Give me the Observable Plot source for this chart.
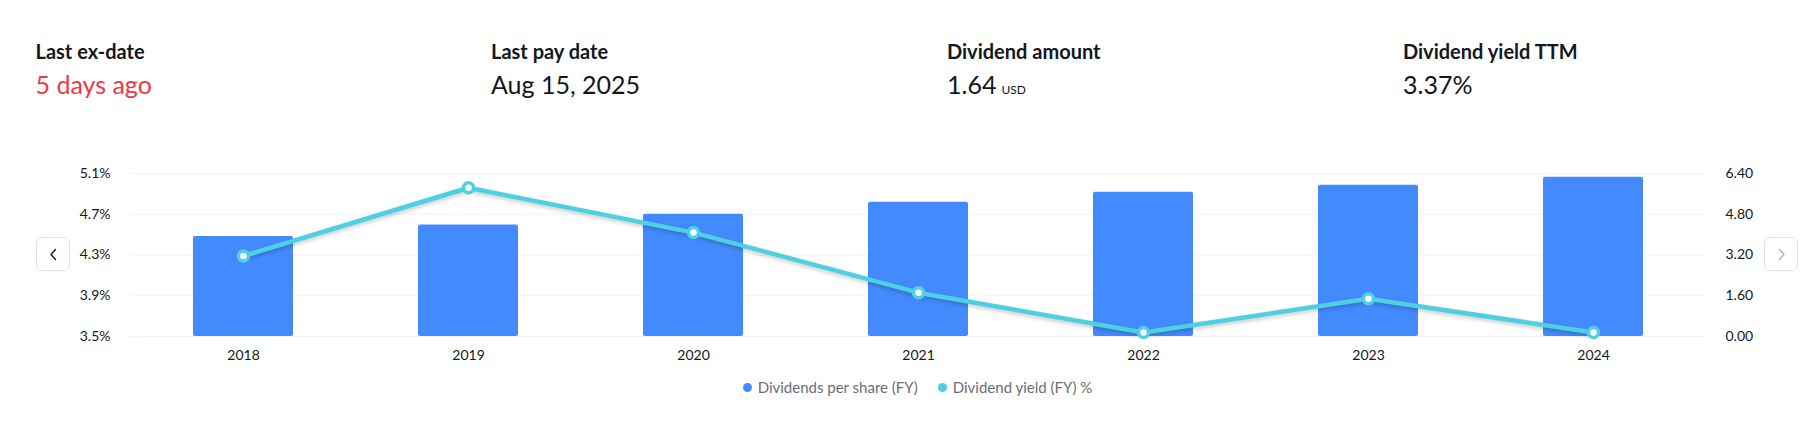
<!DOCTYPE html>
<html>
<head>
<meta charset="utf-8">
<script src="https://cdn.jsdelivr.net/npm/d3@7"></script>
<script src="https://cdn.jsdelivr.net/npm/@observablehq/plot@0.6"></script>
<style>
html, body { margin: 0; padding: 0; background: #fff; width: 1806px; height: 422px; overflow: hidden; }
body { font-family: Lato, "Open Sans", sans-serif; color: #131722; }
#page { position: relative; width: 1806px; height: 422px; }
.stat { position: absolute; white-space: nowrap; }
.lbl { font-weight: 700; font-size: 20px; line-height: 20px; top: 41px; }
.val { font-size: 25px; line-height: 25px; top: 72px; }
.val.red { color: #f23645; }
.unit { font-size: 12px; margin-left: 5px; }
.chart { position: absolute; left: 0; top: 143px; }
.chart svg { overflow: visible; }
.navbtn { position: absolute; top: 237px; width: 32px; height: 32px; border: 1px solid #e0e3eb; border-radius: 6px; box-sizing: content-box; background: #fff; }
.navbtn svg { position: absolute; left: 0; top: 0; }
#legend { position: absolute; left: 130px; width: 1575px; top: 377px; height: 20px; display: flex; justify-content: center; align-items: center; font-size: 15px; color: #6a6d78; }
.li { display: flex; align-items: center; margin: 0 10px; }
.dot { width: 9px; height: 9px; border-radius: 50%; margin-right: 6px; }
g[aria-label="line"] { filter: drop-shadow(0 2px 2px rgba(0,0,0,0.22)); }
</style>
</head>
<body>
<div id="page">
  <div class="stat lbl" style="left:35.5px">Last ex-date</div>
  <div class="stat val red" style="left:35.5px">5 days ago</div>
  <div class="stat lbl" style="left:491px">Last pay date</div>
  <div class="stat val" style="left:491px">Aug 15, 2025</div>
  <div class="stat lbl" style="left:947px">Dividend amount</div>
  <div class="stat val" style="left:947px">1.64<span class="unit">USD</span></div>
  <div class="stat lbl" style="left:1403px">Dividend yield TTM</div>
  <div class="stat val" style="left:1403px">3.37%</div>

  <div class="chart" id="bars"></div>
  <div class="chart" id="lines"></div>

  <div class="navbtn" style="left:35.5px"><svg width="32" height="32"><path d="M18.5 11.5 L14 16.5 L18.5 21.5" fill="none" stroke="#131722" stroke-width="1.4" stroke-linecap="round" stroke-linejoin="round"/></svg></div>
  <div class="navbtn" style="left:1764px"><svg width="32" height="32"><path d="M14.5 11.5 L19 16.5 L14.5 21.5" fill="none" stroke="#b2b5be" stroke-width="1.4" stroke-linecap="round" stroke-linejoin="round"/></svg></div>

  <div id="legend">
    <div class="li"><span class="dot" style="background:#448aff"></span>Dividends per share (FY)</div>
    <div class="li"><span class="dot" style="background:#4dd0e1"></span>Dividend yield (FY) %</div>
  </div>
</div>
<script>
// ---- Data ----
const years = ["2018", "2019", "2020", "2021", "2022", "2023", "2024"];
const dividendsPerShare = [3.93, 4.38, 4.80, 5.27, 5.66, 5.94, 6.25];
const dividendYield = [4.29, 4.96, 4.52, 3.93, 3.54, 3.87, 3.54];
const dpsTicks = [0, 1.6, 3.2, 4.8, 6.4];
const yieldTicks = [3.5, 3.9, 4.3, 4.7, 5.1];

const dpsData = years.map((year, i) => ({year, value: dividendsPerShare[i]}));
const yieldData = years.map((year, i) => ({year, value: dividendYield[i]}));

const frame = {
  width: 1806, height: 230,
  marginLeft: 130, marginRight: 101, marginTop: 30, marginBottom: 37,
  style: {fontFamily: "Lato, 'Open Sans', sans-serif", fontSize: "14px", color: "#131722", background: "transparent"}
};

const barsPlot = Plot.plot({
  ...frame,
  x: {type: "band", domain: years, paddingInner: 0.556, paddingOuter: 0.278},
  y: {domain: [dpsTicks[0], dpsTicks[dpsTicks.length - 1]]},
  marks: [
    Plot.gridY(dpsTicks, {stroke: "#f0f3fa", strokeOpacity: 1}),
    Plot.axisX({tickSize: 0, tickPadding: 14, label: null}),
    Plot.axisY(dpsTicks, {anchor: "right", tickSize: 0, tickPadding: 20, tickFormat: d => d.toFixed(2), label: null}),
    Plot.barY(dpsData, {x: "year", y: "value", fill: "#448aff", rx: 2})
  ]
});
document.getElementById("bars").appendChild(barsPlot);

const linePlot = Plot.plot({
  ...frame,
  x: {type: "point", domain: years, padding: 0.5, axis: null},
  y: {domain: [yieldTicks[0], yieldTicks[yieldTicks.length - 1]]},
  marks: [
    Plot.axisY(yieldTicks, {anchor: "left", tickSize: 0, tickPadding: 20, tickFormat: d => d.toFixed(1) + "%", label: null}),
    Plot.lineY(yieldData, {x: "year", y: "value", stroke: "#4dd0e1", strokeWidth: 4.5, strokeLinejoin: "round"}),
    Plot.dot(yieldData, {x: "year", y: "value", r: 5, fill: "#ffffff", stroke: "#4dd0e1", strokeWidth: 3.5})
  ]
});
document.getElementById("lines").appendChild(linePlot);
</script>
</body>
</html>
